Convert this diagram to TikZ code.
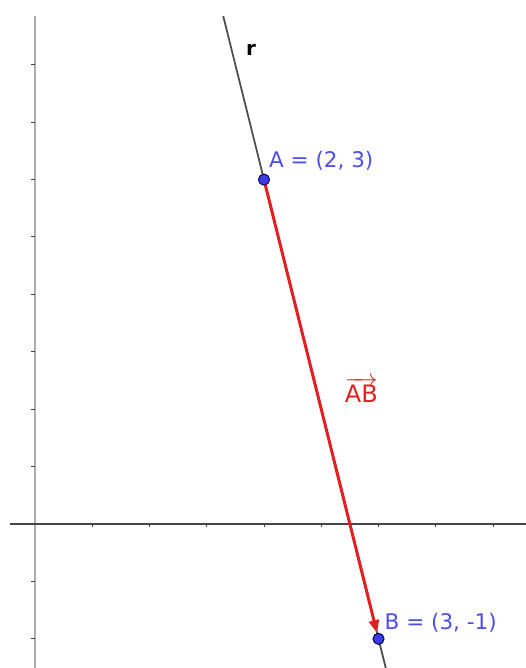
\documentclass[tikz,border=0pt]{standalone}
\usepackage{fontspec}
\setmainfont{DejaVu Sans}
\usetikzlibrary{arrows.meta,calc}
\definecolor{ggblue}{RGB}{77,77,235}
\definecolor{ggdot}{RGB}{60,60,230}
\definecolor{ggred}{RGB}{222,34,34}
\definecolor{ggline}{RGB}{80,80,80}
\definecolor{ggyaxis}{RGB}{172,172,172}
\definecolor{ggxaxis}{RGB}{70,70,70}
\tikzset{
  pt/.style={circle,fill=ggdot,draw=black!70!blue,line width=0.8bp,inner sep=0pt,minimum size=11bp},
  ptlabel/.style={text=ggblue,anchor=base west,inner sep=0pt,font=\fontsize{21.5bp}{25bp}\selectfont},
  vec/.style={ggred,line width=3bp,-{Triangle[length=13bp,width=10bp]}},
  rline/.style={ggline,line width=1.8bp},
  tick/.style={line width=1bp,black!75}
}
\begin{document}
\begin{tikzpicture}[x=114.5bp,y=114.8bp]
\useasboundingbox (-0.3057,-1.2544) rectangle (4.2882,4.5645);
% axes
\draw[ggyaxis,line width=2.4bp] (0,4.425) -- (0,-1.2544);
\draw[ggxaxis,line width=1.5bp] (-0.218,0) -- (4.2882,0);
\foreach \y in {-1,-0.5,0.5,1,1.5,2,2.5,3,3.5,4}
  \draw[tick] (-4bp,\y) -- (0,\y);
\foreach \x in {0.5,1,1.5,2,2.5,3,3.5,4}
  \draw[tick] (\x,0) -- ++(0,-3bp);
% points
\coordinate (Ac) at (2,3);
\coordinate (Bc) at (3,-1);
% line r
\draw[rline] ($(Ac)!-0.356!(Bc)$) -- ($(Ac)!1.07!(Bc)$);
\node[pt] (A) at (Ac) {};
\node[pt] (B) at (Bc) {};
\draw[vec] (A.center) -- (B);
\node[pt] at (Ac) {};
\node[pt] at (Bc) {};
% labels
\node[ptlabel] (lA) at ($(Ac)+(5bp,12bp)$) {A = (2, 3)};
\node[ptlabel] (lB) at ($(Bc)+(6bp,9bp)$) {B = (3, -1)};
\node[anchor=base,inner sep=0pt,font=\bfseries\fontsize{20bp}{23bp}\selectfont] (r) at (1.886,4.085) {r};
\node[anchor=base,inner sep=0pt,text=ggred,font=\fontsize{24bp}{28bp}\selectfont] (ab) at (2.85,1.054) {$\overrightarrow{\mbox{AB}}$};
\end{tikzpicture}
\end{document}
